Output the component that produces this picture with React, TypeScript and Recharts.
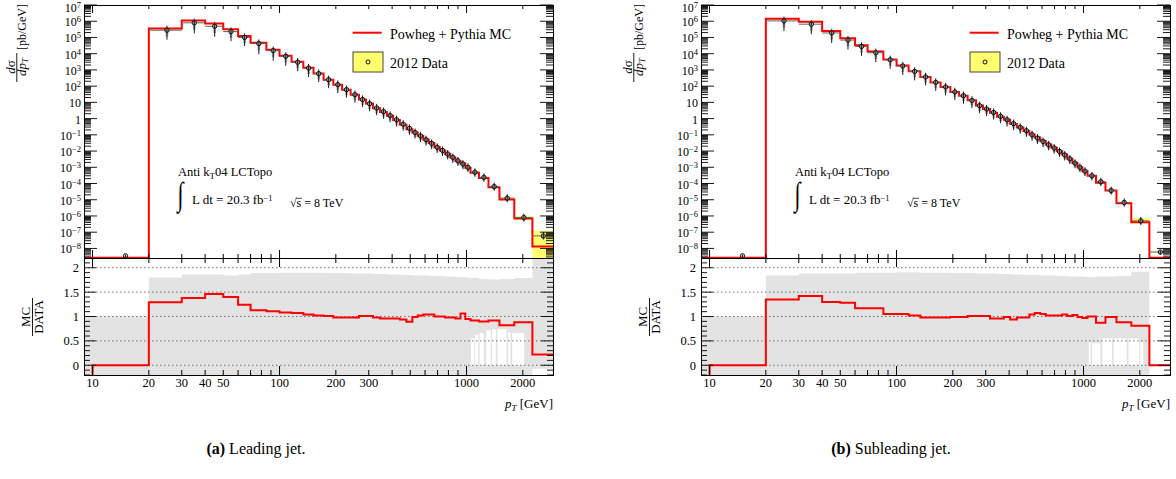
import React from "react";
import { ComposedChart, Line, Area, Scatter, ErrorBar, XAxis, YAxis, ReferenceLine } from "recharts";

const SERIF = "'Liberation Serif', 'Times New Roman', Times, serif";

// ---------- axes ----------
const X_DOMAIN: [number, number] = [9, 2900];
const Y_DOMAIN: [number, number] = [2.57e-9, 1e7];
const R_DOMAIN: [number, number] = [-0.2, 2.2];
const xTickLabels = [10, 20, 30, 40, 50, 100, 200, 300, 1000, 2000];
const ratioTickLabels = [0, 0.5, 1, 1.5, 2];
const ratioGrid = [0, 0.5, 1, 1.5, 2];

// ---------- bins (GeV) ----------
const binEdges = [10, 20, 30, 40, 50, 60, 70, 85, 100, 116, 134, 152, 172, 194, 216, 240, 266, 290, 316, 345, 375, 405, 440, 477, 513, 548, 587, 628, 673, 720, 768, 818, 872, 928, 985, 1050, 1166, 1310, 1500, 1800, 2250, 2900];

// ---------- (a) leading jet ----------
const leadData = [3.5e-9, 2.8e5, 8.0e5, 4.9e5, 2.3e5, 1.0e5, 4.2e4, 1.55e4, 6.9e3, 3.0e3, 1.3e3, 590, 250, 124, 61, 30, 15, 8.3, 4.5, 2.7, 1.55, 0.85, 0.45, 0.25, 0.14, 0.085, 0.05, 0.03, 0.017, 0.011, 6.6e-3, 4.1e-3, 2.5e-3, 1.6e-3, 1.0e-3, 5.0e-4, 2.4e-4, 6.5e-5, 1.26e-5, 8.0e-7, 5.9e-8];
const leadMC = [2.7e-9, 3.61e5, 1.10e6, 7.15e5, 3.22e5, 1.24e5, 4.75e4, 1.72e4, 7.45e3, 3.21e3, 1.35e3, 602, 252, 121.5, 59.8, 29.4, 15.15, 8.38, 4.41, 2.59, 1.49, 0.816, 0.423, 0.2225, 0.1386, 0.0867, 0.052, 0.0312, 0.017, 0.011, 6.47e-3, 4.02e-3, 2.4e-3, 1.7e-3, 9.5e-4, 4.6e-4, 2.16e-4, 5.98e-5, 1.03e-5, 7.04e-7, 1.3e-8];
const leadRatio = [0, 1.29, 1.38, 1.46, 1.40, 1.24, 1.13, 1.11, 1.08, 1.07, 1.04, 1.02, 1.01, 0.98, 0.98, 0.98, 1.01, 1.01, 0.98, 0.96, 0.96, 0.96, 0.94, 0.89, 0.99, 1.02, 1.04, 1.04, 1.00, 1.00, 0.98, 0.98, 0.96, 1.06, 0.95, 0.92, 0.90, 0.92, 0.82, 0.88, 0.22];
const leadErrUp = [0.2, 0.9, 0.8, 0.8, 0.8, 0.8, 0.8, 0.8, 0.8, 0.8, 0.8, 0.8, 0.8, 0.8, 0.8, 0.8, 0.8, 0.8, 0.8, 0.78, 0.78, 0.78, 0.78, 0.78, 0.75, 0.75, 0.75, 0.75, 0.75, 0.75, 0.75, 0.72, 0.72, 0.72, 0.72, 0.72, 0.75, 0.75, 0.75, 0.75, 0.7];
const leadErrDn = [0.2, 0.74, 0.78, 0.77, 0.74, 0.7, 0.78, 0.76, 0.74, 0.72, 0.72, 0.7, 0.7, 0.7, 0.68, 0.68, 0.66, 0.66, 0.64, 0.64, 0.62, 0.62, 0.6, 0.6, 0.58, 0.58, 0.56, 0.56, 0.55, 0.55, 0.54, 0.54, 0.52, 0.52, 0.5, 0.48, 0.46, 0.45, 0.45, 0.45, 0.4];
const leadSysUp = [0, 0.03, 0.03, 0.04, 0.04, 0.03, 0.03, 0.03, 0.03, 0.03, 0.03, 0.03, 0.03, 0.03, 0.03, 0.03, 0.03, 0.03, 0.03, 0.03, 0.03, 0.03, 0.03, 0.03, 0.04, 0.04, 0.04, 0.04, 0.04, 0.04, 0.05, 0.05, 0.05, 0.05, 0.06, 0.07, 0.08, 0.10, 0.15, 0.30, 1.03];
const leadSysDn = [0, 0.03, 0.03, 0.04, 0.04, 0.03, 0.03, 0.03, 0.03, 0.03, 0.03, 0.03, 0.03, 0.03, 0.03, 0.03, 0.03, 0.03, 0.03, 0.03, 0.03, 0.03, 0.03, 0.03, 0.04, 0.04, 0.04, 0.04, 0.04, 0.04, 0.05, 0.05, 0.05, 0.05, 0.06, 0.07, 0.08, 0.10, 0.13, 0.23, 0.99];
const leadBandHi = [1.0, 1.80, 1.86, 1.86, 1.84, 1.86, 1.89, 1.89, 1.90, 1.90, 1.90, 1.90, 1.89, 1.89, 1.89, 1.88, 1.88, 1.88, 1.87, 1.87, 1.86, 1.86, 1.85, 1.85, 1.84, 1.84, 1.84, 1.83, 1.83, 1.83, 1.82, 1.82, 1.81, 1.81, 1.80, 1.79, 1.77, 1.76, 1.77, 1.79, 2.3];
const leadBandLo = [-0.5, -0.5, -0.5, -0.5, -0.5, -0.5, -0.5, -0.5, -0.5, -0.5, -0.5, -0.5, -0.5, -0.5, -0.5, -0.5, -0.5, -0.5, -0.5, -0.5, -0.5, -0.5, -0.5, -0.5, -0.5, -0.5, -0.5, -0.5, -0.5, -0.5, -0.5, -0.5, -0.5, -0.5, -0.5, -0.5, -0.5, -0.5, -0.5, -0.5, -0.07];
const leadWhiteEdges = [1056, 1099, 1113, 1155, 1174, 1237, 1275, 1347, 1368, 1435, 1464, 1636, 1669, 1717, 1755, 2034];
const leadWhiteTop = [0.55, 0, 0.62, 0, 0.66, 0, 0.72, 0, 0.74, 0, 0.74, 0, 0.68, 0, 0.66];

// ---------- (b) subleading jet ----------
const subData = [3.5e-9, 1.05e6, 6.6e5, 1.9e5, 6.9e4, 2.8e4, 1.15e4, 4.2e3, 1.75e3, 810, 370, 170, 89, 44, 25.7, 13.2, 6.3, 3.9, 2.4, 1.38, 0.85, 0.49, 0.29, 0.178, 0.102, 0.063, 0.039, 0.0245, 0.0155, 9.5e-3, 5.8e-3, 3.3e-3, 1.8e-3, 1.0e-3, 5.8e-4, 3.0e-4, 1.3e-4, 3.7e-5, 6.8e-6, 5.0e-7, 6e-9];
const subMC = [2.7e-9, 1.42e6, 9.37e5, 2.47e5, 8.83e4, 3.28e4, 1.35e4, 4.41e3, 1.84e3, 826, 363, 167, 87.2, 43.6, 25.4, 13.3, 6.36, 3.94, 2.30, 1.32, 0.842, 0.461, 0.284, 0.174, 0.106, 0.0674, 0.041, 0.025, 0.0158, 9.69e-3, 6.03e-3, 3.33e-3, 1.85e-3, 9.9e-4, 5.63e-4, 3.0e-4, 1.13e-4, 3.66e-5, 5.98e-6, 4.05e-7, 2.7e-9];
const subRatio = [0, 1.35, 1.42, 1.30, 1.28, 1.17, 1.17, 1.05, 1.05, 1.02, 0.98, 0.98, 0.98, 0.99, 0.99, 1.01, 1.01, 1.01, 0.96, 0.96, 0.99, 0.94, 0.98, 0.98, 1.04, 1.07, 1.05, 1.02, 1.02, 1.02, 1.04, 1.01, 1.03, 0.99, 0.97, 1.00, 0.87, 0.99, 0.88, 0.81, 0];
const subErrUp = [0.2, 0.85, 0.8, 0.8, 0.8, 0.8, 0.8, 0.8, 0.8, 0.8, 0.8, 0.8, 0.8, 0.8, 0.8, 0.8, 0.78, 0.78, 0.78, 0.78, 0.78, 0.78, 0.75, 0.75, 0.75, 0.75, 0.75, 0.75, 0.72, 0.72, 0.72, 0.72, 0.72, 0.72, 0.72, 0.72, 0.75, 0.75, 0.75, 0.75, 0.3];
const subErrDn = [0.2, 0.76, 0.76, 0.76, 0.74, 0.74, 0.74, 0.72, 0.72, 0.72, 0.7, 0.7, 0.7, 0.68, 0.68, 0.66, 0.66, 0.64, 0.64, 0.62, 0.62, 0.6, 0.6, 0.58, 0.58, 0.56, 0.56, 0.55, 0.55, 0.54, 0.54, 0.52, 0.52, 0.5, 0.5, 0.48, 0.46, 0.45, 0.45, 0.45, 0.3];
const subSysUp = [0, 0.03, 0.03, 0.04, 0.04, 0.03, 0.03, 0.03, 0.03, 0.03, 0.03, 0.03, 0.03, 0.03, 0.03, 0.03, 0.03, 0.03, 0.03, 0.03, 0.03, 0.03, 0.03, 0.03, 0.04, 0.04, 0.04, 0.04, 0.04, 0.04, 0.05, 0.05, 0.05, 0.05, 0.06, 0.07, 0.08, 0.10, 0.15, 0.50, 0.10];
const subSysDn = [0, 0.03, 0.03, 0.04, 0.04, 0.03, 0.03, 0.03, 0.03, 0.03, 0.03, 0.03, 0.03, 0.03, 0.03, 0.03, 0.03, 0.03, 0.03, 0.03, 0.03, 0.03, 0.03, 0.03, 0.04, 0.04, 0.04, 0.04, 0.04, 0.04, 0.05, 0.05, 0.05, 0.05, 0.06, 0.07, 0.08, 0.10, 0.13, 0.32, 0.10];
const subBandHi = [1.0, 1.84, 1.88, 1.88, 1.88, 1.90, 1.90, 1.90, 1.91, 1.91, 1.90, 1.90, 1.90, 1.89, 1.89, 1.89, 1.88, 1.88, 1.88, 1.87, 1.87, 1.86, 1.86, 1.85, 1.85, 1.85, 1.84, 1.84, 1.84, 1.83, 1.83, 1.82, 1.82, 1.82, 1.81, 1.81, 1.82, 1.82, 1.83, 1.92, -0.5];
const subBandLo = [-0.5, -0.5, -0.5, -0.5, -0.5, -0.5, -0.5, -0.5, -0.5, -0.5, -0.5, -0.5, -0.5, -0.5, -0.5, -0.5, -0.5, -0.5, -0.5, -0.5, -0.5, -0.5, -0.5, -0.5, -0.5, -0.5, -0.5, -0.5, -0.5, -0.5, -0.5, -0.5, -0.5, -0.5, -0.5, -0.5, -0.5, -0.5, -0.5, -0.5, -0.5];
const subWhiteEdges = [1066, 1090, 1110, 1230, 1260, 1420, 1450, 1700, 1740, 1980, 2010, 2090];
const subWhiteTop = [0.47, 0, 0.45, 0, 0.55, 0, 0.55, 0, 0.55, 0, 0.47];

// ---------- layout ----------
const CH_W = 563;
const PL = 84;
const PW = 469;
const PT = 5;
const PH = 253;
const RH = 117;

const isPow10 = (v: number) => {
  const n = Math.round(Math.log10(v));
  return Math.abs(v / Math.pow(10, n) - 1) < 1e-6;
};

const xTicks: number[] = [];
for (let d = 1; d <= 3; d++) {
  for (let k = 1; k <= 9; k++) {
    const v = k * Math.pow(10, d);
    if (v >= X_DOMAIN[0] && v <= X_DOMAIN[1]) xTicks.push(v);
  }
}
const yTicks: number[] = [];
for (let n = -9; n <= 7; n++) {
  for (let k = 1; k <= 9; k++) {
    const v = k * Math.pow(10, n);
    if (v >= Y_DOMAIN[0] && v <= Y_DOMAIN[1] * 1.0001) yTicks.push(v);
  }
}
const rTicks: number[] = [];
for (let i = -2; i <= 22; i++) rTicks.push(i / 10);

const makeXTick = (plotH: number, majorLen: number, minorLen: number, withLabels: boolean) => (props: any) => {
  const { x, y, payload } = props;
  const v = payload.value as number;
  const L = isPow10(v) ? majorLen : minorLen;
  return (
    <g>
      <line x1={x} x2={x} y1={y} y2={y - L} stroke="#000" strokeWidth={1} />
      <line x1={x} x2={x} y1={y - plotH} y2={y - plotH + L} stroke="#000" strokeWidth={1} />
      {withLabels && xTickLabels.includes(v) ? (
        <text x={x} y={y + 11.5} textAnchor="middle" fontFamily={SERIF} fontSize={12.5} fill="#000">
          {v}
        </text>
      ) : null}
    </g>
  );
};
const topXTick = makeXTick(PH, 8, 4, false);
const ratioXTick = makeXTick(RH, 9, 5, true);

const topYTick = (props: any) => {
  const { x, y, payload } = props;
  const v = payload.value as number;
  const n = Math.round(Math.log10(v));
  const major = isPow10(v);
  const L = major ? 13 : 7;
  let label: any = null;
  if (major) {
    const common = { x: x - 3, y: Math.max(y + 5, 11.5), textAnchor: "end" as const, fontFamily: SERIF, fontSize: 12, fill: "#000" };
    if (n === 0) label = <text {...common}>1</text>;
    else if (n === 1) label = <text {...common}>10</text>;
    else
      label = (
        <text {...common}>
          10
          <tspan dy={-4} fontSize={8.5}>
            {n < 0 ? "\u2212" + -n : String(n)}
          </tspan>
        </text>
      );
  }
  return (
    <g>
      <line x1={x} x2={x + L} y1={y} y2={y} stroke="#000" strokeWidth={0.9} />
      <line x1={x + PW} x2={x + PW - L} y1={y} y2={y} stroke="#000" strokeWidth={0.9} />
      {label}
    </g>
  );
};

const ratioYTick = (props: any) => {
  const { x, y, payload } = props;
  const v = payload.value as number;
  const i = Math.round(v * 10);
  const major = i % 5 === 0;
  const L = major ? 12 : 6;
  const lab = ratioTickLabels.find((t) => Math.abs(t - v) < 1e-9);
  return (
    <g>
      <line x1={x} x2={x + L} y1={y} y2={y} stroke="#000" strokeWidth={0.9} />
      <line x1={x + PW} x2={x + PW - L} y1={y} y2={y} stroke="#000" strokeWidth={0.9} />
      {lab !== undefined ? (
        <text x={x - 5} y={y + 4.5} textAnchor="end" fontFamily={SERIF} fontSize={12.5} fill="#000">
          {String(lab)}
        </text>
      ) : null}
    </g>
  );
};

const renderMarker = (props: any) => (
  <circle cx={props.cx} cy={props.cy} r={2.2} fill="none" stroke="#111" strokeWidth={1} />
);

type PanelData = {
  data: number[];
  mc: number[];
  ratio: number[];
  errUp: number[];
  errDn: number[];
  sysUp: number[];
  sysDn: number[];
  bandHi: number[];
  bandLo: number[];
  whiteEdges: number[];
  whiteTop: number[];
};

const lead: PanelData = {
  data: leadData, mc: leadMC, ratio: leadRatio, errUp: leadErrUp, errDn: leadErrDn,
  sysUp: leadSysUp, sysDn: leadSysDn, bandHi: leadBandHi, bandLo: leadBandLo,
  whiteEdges: leadWhiteEdges, whiteTop: leadWhiteTop,
};
const sub: PanelData = {
  data: subData, mc: subMC, ratio: subRatio, errUp: subErrUp, errDn: subErrDn,
  sysUp: subSysUp, sysDn: subSysDn, bandHi: subBandHi, bandLo: subBandLo,
  whiteEdges: subWhiteEdges, whiteTop: subWhiteTop,
};

const lastEdge = binEdges[binEdges.length - 1];

function stepRows(vals: any[], startX?: number, startVal?: any) {
  const rows: any[] = [];
  if (startX !== undefined) rows.push({ x: startX, v: startVal });
  vals.forEach((v, i) => rows.push({ x: binEdges[i], v }));
  rows.push({ x: lastEdge, v: vals[vals.length - 1] });
  return rows;
}

function Panel({ ox, p }: { ox: number; p: PanelData }) {
  const mcRows = stepRows(p.mc, X_DOMAIN[0], p.mc[0]);
  const sysRows = stepRows(p.data.map((d, i) => [d * (1 - p.sysDn[i]), d * (1 + p.sysUp[i])]));
  const pts = p.data.map((d, i) => {
    const c = (binEdges[i] + binEdges[i + 1]) / 2;
    const wide = i > 0;
    return {
      x: c,
      y: d,
      ex: wide ? [c - binEdges[i], binEdges[i + 1] - c] : [0, 0],
      ey: [d * p.errDn[i], d * p.errUp[i]],
      eg: [d * p.errDn[i] * 0.8, d * p.errUp[i] * 0.35],
    };
  });
  const ratioRows = stepRows(p.ratio, X_DOMAIN[0], -1);
  const bandVals = p.bandHi.map((h, i) => [p.bandLo[i], h]);
  const bandRows = stepRows(bandVals, X_DOMAIN[0], bandVals[0]);
  const whiteRows = p.whiteEdges.map((e, i) => ({ x: e, v: [0, p.whiteTop[Math.min(i, p.whiteTop.length - 1)]] }));

  return (
    <>
      <div style={{ position: "absolute", left: ox, top: 0 }}>
        <ComposedChart width={CH_W} height={PT + PH + 1} margin={{ top: PT, right: CH_W - PL - PW, bottom: 0, left: 0 }}>
          <XAxis dataKey="x" type="number" scale="log" domain={X_DOMAIN} allowDataOverflow ticks={xTicks} interval={0}
            height={1} tickSize={0} tickMargin={0} axisLine={false} tickLine={false} tick={topXTick} />
          <YAxis type="number" scale="log" domain={Y_DOMAIN} allowDataOverflow ticks={yTicks} interval={0}
            width={PL} tickSize={0} tickMargin={0} axisLine={false} tickLine={false} tick={topYTick} />
          <Area data={sysRows} dataKey="v" type="stepAfter" fill="#ffff70" fillOpacity={1} stroke="none" isAnimationActive={false} />
          <Line data={mcRows} dataKey="v" type="stepAfter" stroke="#ff0000" strokeWidth={2} dot={false} activeDot={false} isAnimationActive={false} />
          <Scatter data={pts} dataKey="y" shape={renderMarker} isAnimationActive={false}>
            <ErrorBar dataKey="ex" direction="x" width={0} stroke="#666" strokeWidth={1} isAnimationActive={false} />
            <ErrorBar dataKey="eg" direction="y" width={0} stroke="#a4a4a4" strokeWidth={2.6} isAnimationActive={false} />
            <ErrorBar dataKey="ey" direction="y" width={0} stroke="#1a1a1a" strokeWidth={1} isAnimationActive={false} />
          </Scatter>
        </ComposedChart>
      </div>
      <div style={{ position: "absolute", left: ox, top: PT + PH }}>
        <ComposedChart width={CH_W} height={RH + 20} margin={{ top: 0, right: CH_W - PL - PW, bottom: 0, left: 0 }}>
          <XAxis dataKey="x" type="number" scale="log" domain={X_DOMAIN} allowDataOverflow ticks={xTicks} interval={0}
            height={20} tickSize={0} tickMargin={0} axisLine={false} tickLine={false} tick={ratioXTick} />
          <YAxis type="number" domain={R_DOMAIN} allowDataOverflow ticks={rTicks} interval={0}
            width={PL} tickSize={0} tickMargin={0} axisLine={false} tickLine={false} tick={ratioYTick} />
          <Area data={bandRows} dataKey="v" type="stepAfter" fill="#e3e3e3" fillOpacity={1} stroke="none" isAnimationActive={false} />
          <Area data={whiteRows} dataKey="v" type="stepAfter" fill="#ffffff" fillOpacity={1} stroke="none" isAnimationActive={false} />
          {ratioGrid.map((v) => (
            <ReferenceLine key={v} y={v} stroke="#6f6f6f" strokeWidth={1} strokeDasharray="1.5 2.5" />
          ))}
          <Line data={ratioRows} dataKey="v" type="stepAfter" stroke="#ff0000" strokeWidth={2} dot={false} activeDot={false} isAnimationActive={false} />
        </ComposedChart>
      </div>
    </>
  );
}

function PanelText({ ox }: { ox: number }) {
  const t = (x: number) => ox + x;
  return (
    <g fontFamily={SERIF} fill="#000">
      <rect x={t(84.5)} y={5.5} width={469} height={253} fill="none" stroke="#000" strokeWidth={1} />
      <rect x={t(84.5)} y={258.5} width={469} height={117} fill="none" stroke="#000" strokeWidth={1} />

      {/* y title top */}
      <g transform={`translate(${t(14.5)},67) rotate(-90)`}>
        <text textAnchor="middle" fontSize={13}>
          <tspan fontStyle="italic">d</tspan>σ
        </text>
      </g>
      <line x1={t(16.8)} x2={t(16.8)} y1={53} y2={82} stroke="#000" strokeWidth={0.9} />
      <g transform={`translate(${t(25.5)},67) rotate(-90)`}>
        <text textAnchor="middle" fontSize={13}>
          <tspan fontStyle="italic">dp</tspan>
          <tspan fontStyle="italic" fontSize={9} dy={2.5}>T</tspan>
        </text>
      </g>
      <g transform={`translate(${t(25.5)},50) rotate(-90)`}>
        <text fontSize={12}>[pb/GeV]</text>
      </g>

      {/* ratio title */}
      <g transform={`translate(${t(30)},317) rotate(-90)`}>
        <text textAnchor="middle" fontSize={13}>MC</text>
      </g>
      <line x1={t(32.5)} x2={t(32.5)} y1={298} y2={336} stroke="#000" strokeWidth={0.9} />
      <g transform={`translate(${t(42.5)},317) rotate(-90)`}>
        <text textAnchor="middle" fontSize={13}>DATA</text>
      </g>

      {/* x title */}
      <text x={t(553)} y={408} textAnchor="end" fontSize={13}>
        <tspan fontStyle="italic">p</tspan>
        <tspan fontStyle="italic" fontSize={9} dy={3}>T</tspan>
        <tspan dy={-3}> [GeV]</tspan>
      </text>

      {/* legend */}
      <line x1={t(352.7)} x2={t(381.7)} y1={32.7} y2={32.7} stroke="#ff0000" strokeWidth={2} />
      <text x={t(390)} y={38.5} fontSize={14}>Powheg + Pythia MC</text>
      <rect x={t(353)} y={52} width={30} height={20} fill="#ffff70" stroke="#444" strokeWidth={1} />
      <circle cx={t(368)} cy={62} r={2} fill="none" stroke="#111" strokeWidth={1} />
      <text x={t(390)} y={67.5} fontSize={14}>2012 Data</text>

      {/* annotations */}
      <text x={t(178)} y={176} fontSize={12.5}>
        Anti k<tspan fontSize={9} dy={3}>T</tspan>
        <tspan dy={-3}>04 LCTopo</tspan>
      </text>
      <text transform={`translate(${t(177.5)},205) scale(1,1.5)`} fontSize={22}>∫</text>
      <text x={t(192)} y={204} fontSize={13}>
        L dt = 20.3 fb<tspan fontSize={8.5} dy={-3}>{"\u22121"}</tspan>
      </text>
      <text x={t(290)} y={207} fontSize={12}>√s = 8 TeV</text>
      <line x1={t(296.2)} x2={t(302)} y1={198.3} y2={198.3} stroke="#000" strokeWidth={0.7} />
    </g>
  );
}

export default function App() {
  return (
    <div style={{ position: "absolute", left: 0, top: 0, width: 1176, height: 479, background: "#fff", overflow: "hidden" }}>
      <Panel ox={0} p={lead} />
      <Panel ox={617} p={sub} />
      <svg style={{ position: "absolute", left: 0, top: 0, pointerEvents: "none" }} width={1176} height={479}>
        <PanelText ox={0} />
        <PanelText ox={617} />
        <text x={256} y={454} textAnchor="middle" fontFamily={SERIF} fontSize={16} fill="#000">
          <tspan fontWeight="bold">(a)</tspan> Leading jet.
        </text>
        <text x={891} y={454} textAnchor="middle" fontFamily={SERIF} fontSize={16} fill="#000">
          <tspan fontWeight="bold">(b)</tspan> Subleading jet.
        </text>
      </svg>
    </div>
  );
}
